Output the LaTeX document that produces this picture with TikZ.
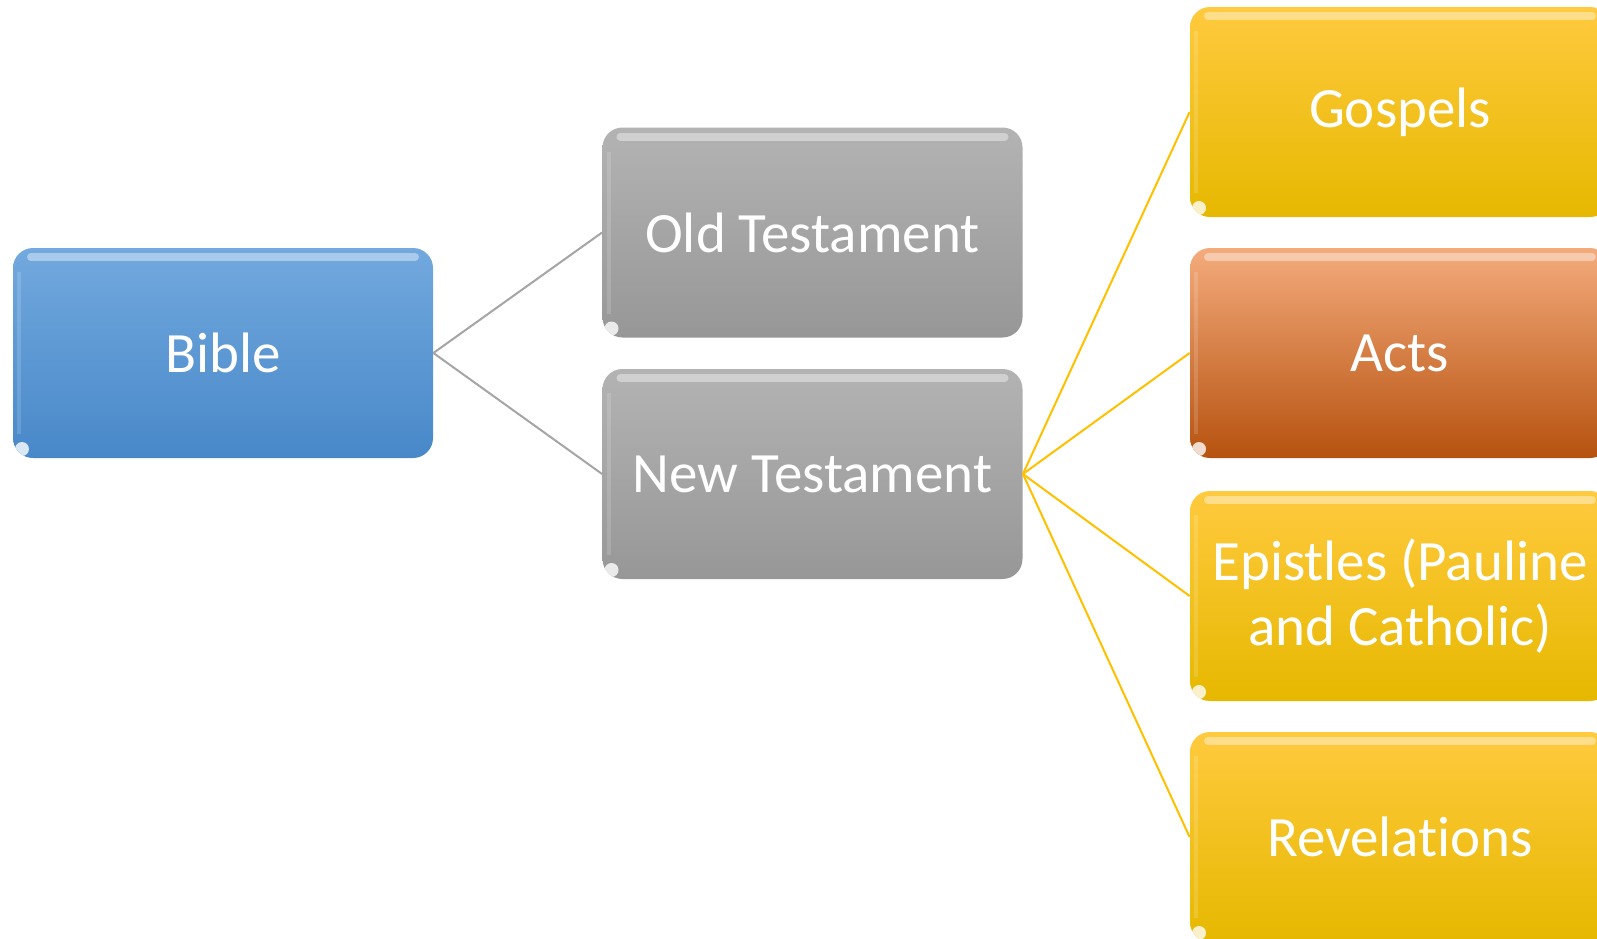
\documentclass[tikz,border=0pt]{standalone}
\usepackage{fontspec}
\setmainfont{Carlito}[Ligatures=NoCommon]
\usepackage{tikz}

\definecolor{bluetop}{HTML}{72A9DE}
\definecolor{bluebot}{HTML}{4888C9}
\definecolor{graytop}{HTML}{B3B3B3}
\definecolor{graybot}{HTML}{979797}
\definecolor{goldtop}{HTML}{FFCA3E}
\definecolor{goldmid}{HTML}{FFC400}
\definecolor{goldbot}{HTML}{E6B800}
\definecolor{orangetop}{HTML}{F4AB7C}
\definecolor{orangemid}{HTML}{EE8036}
\definecolor{orangebot}{HTML}{B6520F}
\definecolor{grayline}{HTML}{A5A5A5}
\definecolor{goldline}{HTML}{FFC000}

\begin{document}
\begin{tikzpicture}[x=0.5pt,y=0.5pt,yscale=-1,xscale=1,
    box/.style={rounded corners=10pt, minimum width=210pt, minimum height=105pt,
        inner sep=2pt, align=center, text=white,
        font=\fontsize{28.5}{32.5}\selectfont,
        path picture={
            \draw [white, opacity=0.4, line width=4pt, line cap=round]
                ([xshift=9pt,yshift=-4.5pt]path picture bounding box.north west) --
                ([xshift=-9pt,yshift=-4.5pt]path picture bounding box.north east);
            \draw [white, opacity=0.15, line width=2pt]
                ([xshift=3pt,yshift=-12pt]path picture bounding box.north west) --
                ([xshift=3pt,yshift=12pt]path picture bounding box.south west);
            \fill [white, opacity=0.8]
                ([xshift=4.5pt,yshift=4.5pt]path picture bounding box.south west) circle (3.5pt);
        }},
    bluebox/.style={box, top color=bluetop, bottom color=bluebot},
    graybox/.style={box, top color=graytop, bottom color=graybot},
    goldbox/.style={box, top color=goldtop, middle color=goldmid, bottom color=goldbot},
    orangebox/.style={box, top color=orangetop, middle color=orangemid, bottom color=orangebot},
    grayconn/.style={draw=grayline, line width=1pt},
    goldconn/.style={draw=goldline, line width=1pt}]
    %set diagram size to 1597 x 938
    \useasboundingbox (0,0) rectangle (1597,938);
    \clip (0,0) rectangle (1597,938);

    % Root
    \draw (223,353) node (bible) [bluebox] {Bible};
    % Testaments
    \draw (812.5,232.5) node (old) [graybox] {Old Testament};
    \draw (812.5,474) node (new) [graybox] {New Testament};
    % New Testament parts
    \draw (1400,112) node (gospels) [goldbox] {Gospels};
    \draw (1400,353) node (acts) [orangebox] {Acts};
    \draw (1400,596) node (epistles) [goldbox] {Epistles (Pauline\\and Catholic)};
    \draw (1400,837) node (revelations) [goldbox] {Revelations};

    %Straight Lines
    \draw [grayconn] (bible.east) -- (old.west);
    \draw [grayconn] (bible.east) -- (new.west);
    %Straight Lines
    \draw [goldconn] (new.east) -- (gospels.west);
    \draw [goldconn] (new.east) -- (acts.west);
    \draw [goldconn] (new.east) -- (epistles.west);
    \draw [goldconn] (new.east) -- (revelations.west);
\end{tikzpicture}
\end{document}
